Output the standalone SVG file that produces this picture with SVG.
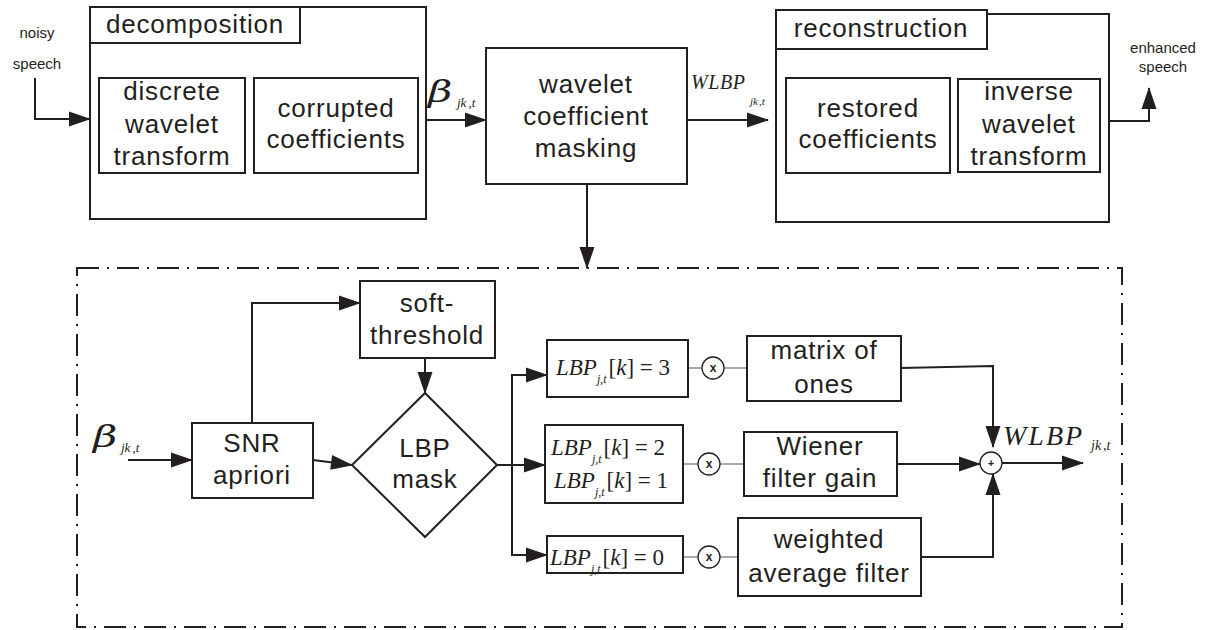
<svg xmlns="http://www.w3.org/2000/svg" width="1208" height="630" viewBox="0 0 1208 630">
<defs>
<marker id="ah" markerUnits="userSpaceOnUse" viewBox="0 0 22 15" markerWidth="22" markerHeight="15" refX="21" refY="7.5" orient="auto" overflow="visible">
<path d="M0,0 L22,7.5 L0,15 z" fill="#231f20"/>
</marker>
</defs>
<style>
.bx{fill:#fff;stroke:#231f20;stroke-width:2}
.t{font-family:"Liberation Sans",Arial,sans-serif;font-size:26px;letter-spacing:0.8px;fill:#231f20;text-anchor:middle}
.s{font-family:"Liberation Sans",Arial,sans-serif;font-size:15px;fill:#231f20;text-anchor:middle}
.m{font-family:"Liberation Serif","Times New Roman",serif;font-style:italic;fill:#231f20}
.b{font-family:"DejaVu Serif","Liberation Serif",serif;font-style:italic;font-size:29px;fill:#231f20}
.c{fill:none;stroke:#231f20;stroke-width:2}
.a{fill:none;stroke:#231f20;stroke-width:2;marker-end:url(#ah)}
.th{fill:none;stroke:#555;stroke-width:1.2}
.ci{fill:#fff;stroke:#231f20;stroke-width:1.3}
.ct{font-family:"Liberation Sans",Arial,sans-serif;font-weight:bold;fill:#231f20;text-anchor:middle}
</style>
<rect width="1208" height="630" fill="#fff"/>

<g id="connectors">
<path class="a" d="M35,78 V119 H90"/>
<path class="a" d="M426,120 H486"/>
<path class="a" d="M687,120 H768"/>
<path class="a" d="M1109,121 H1149 V88"/>
<path class="c" d="M245,117 H254"/>
<path class="c" d="M950,126 H958"/>
<path class="a" d="M587,184 V268"/>
<path class="a" d="M128,460 H192"/>
<path class="a" d="M252,423 V303 H360"/>
<path class="a" d="M425,358 V393"/>
<path class="a" d="M313,460 L352,465"/>
<path class="a" d="M497,465 H545"/>
<path class="a" d="M512,465 V375 H547"/>
<path class="a" d="M512,465 V555 H547"/>
<path class="th" d="M688,368 H702 M724,368 H747"/>
<path class="th" d="M683,464 H698 M720,464 H744"/>
<path class="th" d="M683,557 H698 M720,557 H738"/>
<path class="a" d="M901,368 L993,366 V447"/>
<path class="a" d="M897,464 H980"/>
<path class="a" d="M921,557 H993 V474"/>
<path class="a" d="M1002,463 H1083"/>
</g>

<g id="decomposition">
<rect class="bx" x="90" y="7" width="336" height="212"/>
<rect class="bx" x="90" y="7" width="210" height="36"/>
<text class="t" x="195" y="33">decomposition</text>
</g>
<g id="dwt">
<rect class="bx" x="99" y="78" width="146" height="95"/>
<text class="t" x="172" y="100">discrete</text>
<text class="t" x="172" y="133">wavelet</text>
<text class="t" x="172" y="165">transform</text>
</g>
<g id="corrupted">
<rect class="bx" x="254" y="78" width="164" height="95"/>
<text class="t" x="336" y="117">corrupted</text>
<text class="t" x="336" y="148">coefficients</text>
</g>
<g id="noisy">
<text class="s" x="37" y="38">noisy</text>
<text class="s" x="37" y="69">speech</text>
</g>
<g id="beta1">
<text class="b" transform="translate(428,102) scale(1.45,1)">β</text>
<text class="m" x="457" y="107" font-size="13">jk<tspan dx="2">,t</tspan></text>
</g>
<g id="masking">
<rect class="bx" x="486" y="48" width="201" height="136"/>
<text class="t" x="586" y="93">wavelet</text>
<text class="t" x="586" y="125">coefficient</text>
<text class="t" x="586" y="157">masking</text>
</g>
<g id="wlbp1">
<text class="m" x="691" y="89" font-size="20" letter-spacing="0.6">WLBP</text>
<text class="m" x="750" y="105" font-size="11">jk<tspan dx="1">,t</tspan></text>
</g>
<g id="reconstruction">
<rect class="bx" x="776" y="14" width="333" height="208"/>
<rect class="bx" x="776" y="10" width="211" height="39"/>
<text class="t" x="881" y="37">reconstruction</text>
</g>
<g id="restored">
<rect class="bx" x="786" y="78" width="164" height="95"/>
<text class="t" x="868" y="117">restored</text>
<text class="t" x="868" y="148">coefficients</text>
</g>
<g id="iwt">
<rect class="bx" x="958" y="79" width="142" height="93"/>
<text class="t" x="1029" y="100">inverse</text>
<text class="t" x="1029" y="133">wavelet</text>
<text class="t" x="1029" y="165">transform</text>
</g>
<g id="enhanced">
<text class="s" x="1163" y="53">enhanced</text>
<text class="s" x="1163" y="72">speech</text>
</g>

<g id="masking-detail">
<rect x="77" y="268" width="1045" height="359" fill="none" stroke="#231f20" stroke-width="2" stroke-dasharray="22 8 2 8"/>
</g>
<g id="beta2">
<text class="b" transform="translate(93,447) scale(1.45,1)">β</text>
<text class="m" x="121" y="452" font-size="13">jk<tspan dx="2">,t</tspan></text>
</g>
<g id="snr">
<rect class="bx" x="192" y="423" width="121" height="75"/>
<text class="t" x="252" y="452">SNR</text>
<text class="t" x="252" y="484">apriori</text>
</g>
<g id="soft">
<rect class="bx" x="360" y="281" width="135" height="77"/>
<text class="t" x="427" y="312">soft-</text>
<text class="t" x="427" y="344">threshold</text>
</g>
<g id="lbpmask">
<path class="bx" d="M425,393 L497,465 L425,537 L352,465 z"/>
<text class="t" x="425" y="457">LBP</text>
<text class="t" x="425" y="488">mask</text>
</g>
<g id="lbp3">
<rect class="bx" x="547" y="340" width="141" height="57"/>
<text class="m" x="556" y="375" font-size="23">LBP<tspan font-size="12" dy="8">j,t</tspan><tspan font-style="normal" dy="-8" dx="2">[</tspan>k<tspan font-style="normal">] = 3</tspan></text>
</g>
<g id="lbp21">
<rect class="bx" x="545" y="425" width="138" height="78"/>
<text class="m" x="551" y="455" font-size="23">LBP<tspan font-size="12" dy="8">j,t</tspan><tspan font-style="normal" dy="-8" dx="2">[</tspan>k<tspan font-style="normal">] = 2</tspan></text>
<text class="m" x="554" y="488" font-size="23">LBP<tspan font-size="12" dy="8">j,t</tspan><tspan font-style="normal" dy="-8" dx="2">[</tspan>k<tspan font-style="normal">] = 1</tspan></text>
</g>
<g id="lbp0">
<rect class="bx" x="547" y="536" width="136" height="37"/>
<text class="m" x="550" y="565" font-size="23">LBP<tspan font-size="12" dy="8">j,t</tspan><tspan font-style="normal" dy="-8" dx="2">[</tspan>k<tspan font-style="normal">] = 0</tspan></text>
</g>
<g id="mul1">
<circle class="ci" cx="713" cy="368" r="11"/>
<text class="ct" x="713" y="372" font-size="12">x</text>
</g>
<g id="mul2">
<circle class="ci" cx="709" cy="464" r="11"/>
<text class="ct" x="709" y="468" font-size="12">x</text>
</g>
<g id="mul3">
<circle class="ci" cx="709" cy="557" r="11"/>
<text class="ct" x="709" y="561" font-size="12">x</text>
</g>
<g id="ones">
<rect class="bx" x="747" y="336" width="154" height="65"/>
<text class="t" x="824" y="359">matrix of</text>
<text class="t" x="824" y="393">ones</text>
</g>
<g id="wiener">
<rect class="bx" x="744" y="432" width="153" height="64"/>
<text class="t" x="820" y="455">Wiener</text>
<text class="t" x="820" y="487">filter gain</text>
</g>
<g id="weighted">
<rect class="bx" x="738" y="518" width="183" height="78"/>
<text class="t" x="829" y="548">weighted</text>
<text class="t" x="829" y="582">average filter</text>
</g>
<g id="sum">
<circle class="ci" cx="991" cy="463" r="11"/>
<text class="ct" x="991" y="467" font-size="11">+</text>
</g>
<g id="wlbp2">
<text class="m" x="1003" y="445" font-size="28" letter-spacing="2">WLBP</text>
<text class="m" x="1091" y="450" font-size="14">jk<tspan dx="2">,t</tspan></text>
</g>
</svg>
